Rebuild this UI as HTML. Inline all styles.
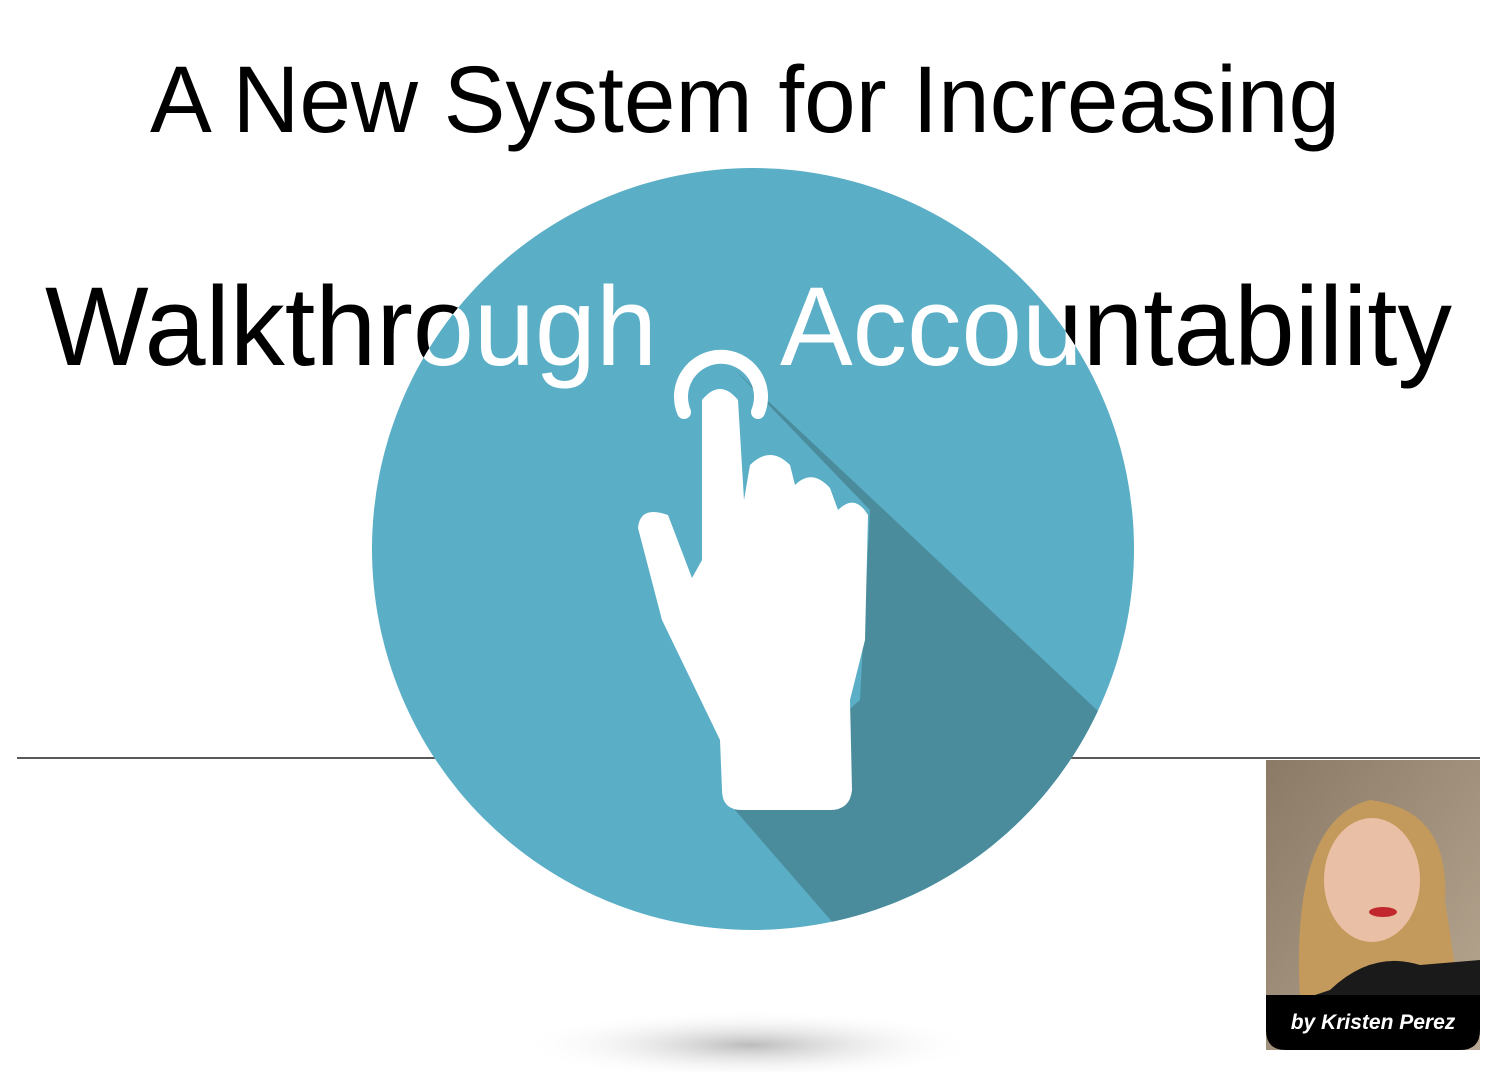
<!DOCTYPE html>
<html><head><meta charset="utf-8"><style>
html,body{margin:0;padding:0;background:#fff;width:1500px;height:1072px;overflow:hidden}
svg{display:block}
text{font-family:"Liberation Sans",sans-serif}
</style></head><body>
<svg width="1500" height="1072" viewBox="0 0 1500 1072">
<defs>
  <clipPath id="circ"><circle cx="753" cy="549" r="381"/></clipPath>
  <radialGradient id="sh" cx="0.5" cy="0.5" r="0.5">
    <stop offset="0" stop-color="#aaa" stop-opacity="0.8"/>
    <stop offset="1" stop-color="#fff" stop-opacity="0"/>
  </radialGradient>
  <linearGradient id="bg" x1="0" y1="0" x2="1" y2="1">
    <stop offset="0" stop-color="#8a7a66"/><stop offset="1" stop-color="#b8a892"/>
  </linearGradient>
</defs>
<ellipse cx="750" cy="1045" rx="230" ry="35" fill="url(#sh)"/>
<line x1="17" y1="758" x2="1480" y2="758" stroke="#222" stroke-width="1.5"/>
<text x="150" y="132" font-size="95" textLength="1190" lengthAdjust="spacingAndGlyphs" fill="#000">A New System for Increasing</text>
<g>
<text x="45" y="365" font-size="112" textLength="612" lengthAdjust="spacingAndGlyphs" fill="#000">Walkthrough</text>
<text x="780" y="365" font-size="112" textLength="672" lengthAdjust="spacingAndGlyphs" fill="#000">Accountability</text>
</g>
<circle cx="753" cy="549" r="381" fill="#5aaec6"/>
<polygon clip-path="url(#circ)" points="735,370 1150,760 900,1000 735,810 860,700 870,510" fill="#4a8c9c"/>
<g clip-path="url(#circ)">
<text x="45" y="365" font-size="112" textLength="612" lengthAdjust="spacingAndGlyphs" fill="#fff">Walkthrough</text>
<text x="780" y="365" font-size="112" textLength="672" lengthAdjust="spacingAndGlyphs" fill="#fff">Accountability</text>
</g>
<path d="M684,412 A40,40 0 1 1 758,412" fill="none" stroke="#fff" stroke-width="14" stroke-linecap="round"/>
<path d="M702,560 L702,400 Q720,378 738,400 L744,500 L750,465 Q770,445 790,465 L795,485 Q812,468 830,488 L838,510 Q855,493 868,515 L865,640 L850,700 L852,790 Q850,810 830,810 L742,810 Q722,810 722,790 L720,740 L662,620 L638,528 Q640,505 668,515 L692,578 Z" fill="#fff"/>
<g>
<rect x="1266" y="760" width="214" height="290" fill="url(#bg)"/>
<path d="M1300,1000 Q1290,820 1370,800 Q1450,810 1445,900 L1460,1000 Z" fill="#c49a5c"/>
<ellipse cx="1372" cy="880" rx="48" ry="62" fill="#e9c0a6"/>
<ellipse cx="1383" cy="912" rx="14" ry="5" fill="#c0282e"/>
<path d="M1330,990 Q1372,950 1420,965 L1480,960 L1480,1000 L1300,1000 Z" fill="#1a1a1a"/>
<path d="M1266,995 L1480,995 L1480,1030 Q1480,1050 1460,1050 L1286,1050 Q1266,1050 1266,1030 Z" fill="#000"/>
<text x="1373" y="1029" font-size="21" font-style="italic" font-weight="bold" fill="#fff" text-anchor="middle">by Kristen Perez</text>
</g>
</svg>
</body></html>
